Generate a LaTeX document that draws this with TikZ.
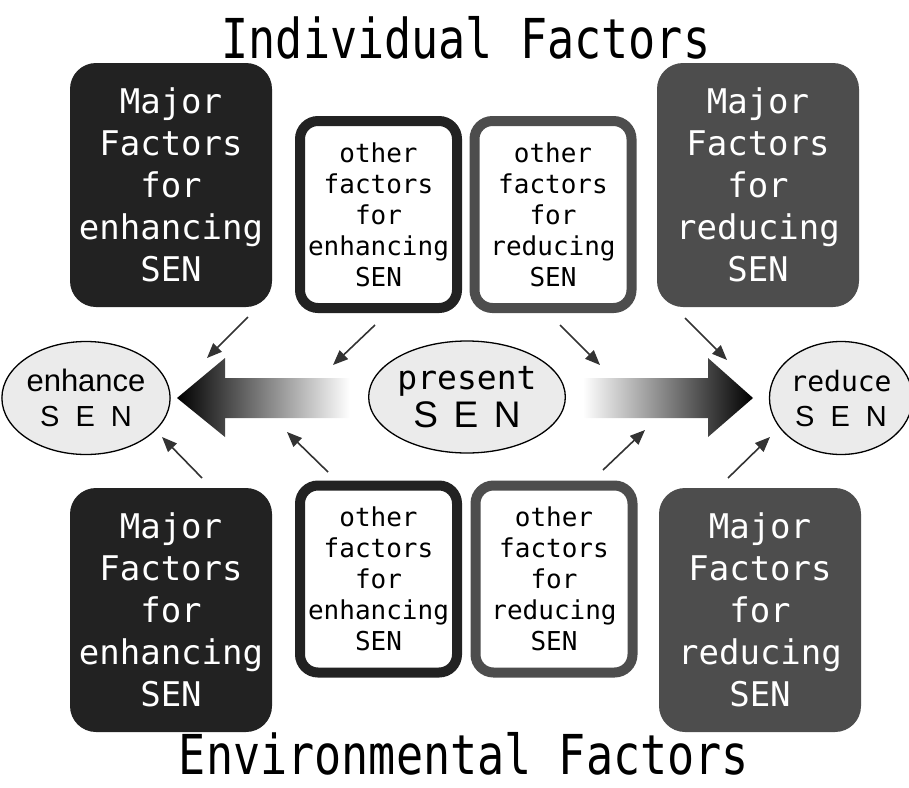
\documentclass[tikz,border=0pt]{standalone}
\usepackage{fontspec}
\setmainfont{Liberation Sans}
\newfontfamily\gothic{DejaVu Sans Mono}
\newfontfamily\gothictitle[FakeStretch=0.82]{DejaVu Sans Mono}
\usetikzlibrary{arrows.meta,shapes.geometric}

\definecolor{darkbox}{HTML}{222222}
\definecolor{greybox}{HTML}{4D4D4D}
\definecolor{ovalfill}{HTML}{EBEBEB}
\definecolor{linkgrey}{HTML}{333333}

\newcommand\spacedsen[1]{S\hspace{#1}E\hspace{#1}N}

\tikzset{
  major/.style={rounded corners=26pt, minimum width=202pt, minimum height=244pt,
    inner sep=0pt, text=white, align=center, font=\gothic\fontsize{34}{42}\selectfont},
  other/.style={draw, line width=10pt, rounded corners=18pt, fill=white,
    minimum width=157pt, minimum height=187pt, inner sep=0pt, align=center,
    font=\gothic\fontsize{26}{31}\selectfont},
  state/.style={ellipse, draw, line width=1.3pt, fill=ovalfill, inner sep=0pt, align=center},
  heading/.style={font=\gothictitle\fontsize{55}{60}\selectfont},
  link/.style={draw=linkgrey, line width=1.6pt, -{Triangle[length=15pt,width=12pt]}}
}

\begin{document}
\begin{tikzpicture}[x=1pt,y=-1pt]
  \useasboundingbox (0,0) rectangle (909,787);

  \node[heading] (indiv) at (466,38) {Individual Factors};
  \node[heading] (envir) at (464,754) {Environmental Factors};

  % factor boxes
  \node[major, fill=darkbox] (majEnhTop) at (171,185) {Major\\Factors\\for\\enhancing\\SEN};
  \node[major, fill=greybox] (majRedTop) at (758,185) {Major\\Factors\\for\\reducing\\SEN};
  \node[major, fill=darkbox] (majEnhBot) at (171,610) {Major\\Factors\\for\\enhancing\\SEN};
  \node[major, fill=greybox] (majRedBot) at (760,610) {Major\\Factors\\for\\reducing\\SEN};

  \node[other, draw=darkbox] (othEnhTop) at (378.5,214.5) {other\\factors\\for\\enhancing\\SEN};
  \node[other, draw=greybox] (othRedTop) at (553,214.5) {other\\factors\\for\\reducing\\SEN};
  \node[other, draw=darkbox] (othEnhBot) at (378.5,579) {other\\factors\\for\\enhancing\\SEN};
  \node[other, draw=greybox] (othRedBot) at (554,579) {other\\factors\\for\\reducing\\SEN};

  % SEN states
  \node[state, minimum width=148pt, minimum height=113pt, font=\fontsize{29}{35}\selectfont]
    (enhance) at (86,398) {{\fontsize{31}{35}\selectfont enhance}\\\spacedsen{.55em}};
  \node[state, minimum width=187pt, minimum height=112pt, font=\fontsize{37}{38}\selectfont]
    (present) at (467,397) {{\gothic\fontsize{33}{38}\selectfont present}\\\spacedsen{.42em}};
  \node[state, minimum width=136pt, minimum height=113pt, font=\fontsize{29}{35}\selectfont]
    (reduce) at (841,398) {{\gothic\fontsize{28}{35}\selectfont reduce}\\\spacedsen{.55em}};

  % big shaded arrows
  \shade[left color=black, right color=white]
    (177,398) -- (225,358) -- (225,378) -- (350,378) -- (350,418)
    -- (225,418) -- (225,437) -- cycle;
  \shade[left color=white, right color=black]
    (583,378) -- (708,378) -- (708,358) -- (753,398) -- (708,437)
    -- (708,418) -- (583,418) -- cycle;

  % small arrows
  \coordinate (a1) at (248,317); \coordinate (b1) at (207,358);
  \coordinate (a2) at (375,325); \coordinate (b2) at (333,365);
  \coordinate (a3) at (560,325); \coordinate (b3) at (600,365);
  \coordinate (a4) at (685,318); \coordinate (b4) at (727,360);
  \coordinate (a5) at (202,478); \coordinate (b5) at (162,437);
  \coordinate (a6) at (328,472); \coordinate (b6) at (287,432);
  \coordinate (a7) at (603,470); \coordinate (b7) at (645,430);
  \coordinate (a8) at (728,478); \coordinate (b8) at (770,437);

  \foreach \i in {1,...,8}
    \draw[link] (a\i) -- (b\i);
\end{tikzpicture}
\end{document}
